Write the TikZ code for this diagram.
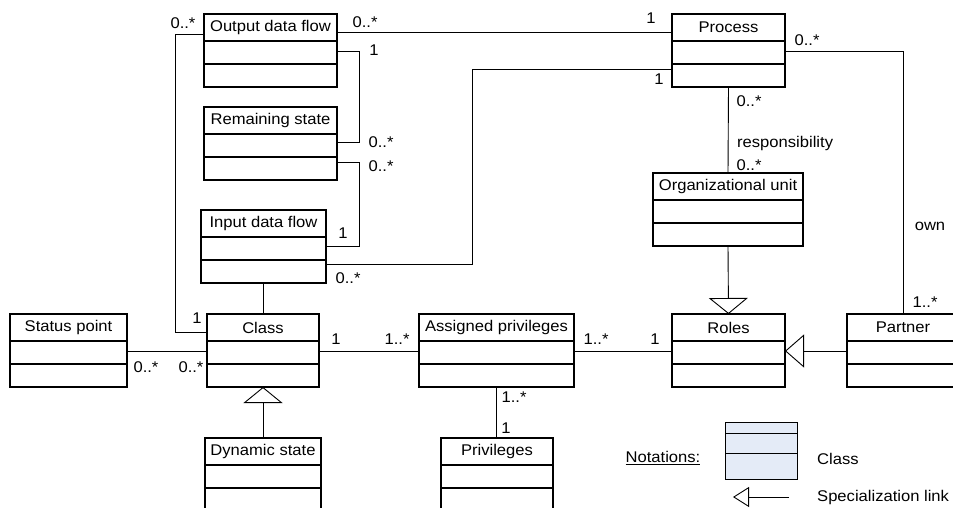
\documentclass[tikz,border=0pt]{standalone}
\usepackage{fontspec}
\setmainfont{Liberation Sans}[FakeStretch=1.07]
\usetikzlibrary{arrows.meta,calc}
\definecolor{legendfill}{RGB}{228,235,247}
\tikzset{
 classbox/.style={draw, line width=1.1pt, inner sep=0pt, outer sep=0pt, minimum height=73pt, anchor=north west},
 conn/.style={line width=0.9pt},
 lbl/.style={inner sep=0pt, font=\fontsize{15.5}{18}\selectfont},
 lbll/.style={lbl, anchor=west},
}
\newcommand\umlclass[5]{%
 \node[classbox, minimum width=#4pt] (#1) at (#2,#3) {};
 \node[lbl] (#1-t) at ([yshift=-13.5pt]#1.north) {#5};
 \draw[line width=1.1pt] ([yshift=-27pt]#1.north west) -- ([yshift=-27pt]#1.north east);
 \draw[line width=1.1pt] ([yshift=-50pt]#1.north west) -- ([yshift=-50pt]#1.north east);
}
\begin{document}
\begin{tikzpicture}[x=1pt,y=-1pt]
\useasboundingbox (0,0) rectangle (953,508);
\clip (0,0) rectangle (953,508);
% classes
\umlclass{out}{204}{14}{133}{Output data flow}
\umlclass{rem}{204}{107}{133}{Remaining state}
\umlclass{inp}{201}{210}{125}{Input data flow}
\umlclass{proc}{672}{14}{113}{Process}
\umlclass{org}{653}{173}{150}{Organizational unit}
\umlclass{roles}{672}{314}{113}{Roles}
\umlclass{partner}{847}{314}{112}{Partner}
\umlclass{status}{10}{314}{117}{Status point}
\umlclass{cls}{207}{314}{112}{Class}
\umlclass{asg}{419}{314}{155}{Assigned privileges}
\umlclass{dyn}{205}{438}{116}{Dynamic state}
\umlclass{priv}{441}{438}{112}{Privileges}
% connectors
\draw[conn] ([yshift=-18pt]out.north east) -- ([yshift=-18pt]proc.north west);
\draw[conn] ([yshift=-37pt]out.north east) -- ++(22,0) |- ([yshift=-35pt]rem.north east);
\draw[conn] ([yshift=-55pt]rem.north east) -- ++(22,0) |- ([yshift=-36pt]inp.north east);
\draw[conn] ([yshift=-54pt]inp.north east) -- ++(146,0) |- ([yshift=-55pt]proc.north west);
\draw[conn] ([yshift=-37pt]proc.north east) -| (partner.north);
\draw[conn] (proc.south) -- (org.north);
\draw[conn, -{Triangle[open, length=16pt, width=39pt, line width=0.9pt]}] (org.south) -- (roles.north);
\draw[conn, -{Triangle[open, length=19pt, width=33pt, line width=0.9pt]}] ([yshift=-37pt]partner.north west) -- ([yshift=-37pt]roles.north east);
\draw[conn, -{Triangle[open, length=16pt, width=39pt, line width=0.9pt]}] (dyn.north) -- (dyn.north |- cls.south);
\draw[conn] (inp.south) -- (inp.south |- cls.north);
\draw[conn] ([yshift=-18pt]cls.north west) -- ++(-32,0) |- ([yshift=-20pt]out.north west);
\draw[conn] ([yshift=-37pt]status.north east) -- ([yshift=-37pt]cls.north west);
\draw[conn] ([yshift=-37pt]cls.north east) -- ([yshift=-37pt]asg.north west);
\draw[conn] ([yshift=-37pt]asg.north east) -- ([yshift=-37pt]roles.north west);
\draw[conn] (asg.south) -- (asg.south |- priv.north);
% multiplicities and labels
\node[lbl] (m1) at (183,23) {0..*};
\node[lbl] (m2) at (365,22) {0..*};
\node[lbl] (m3) at (651,18) {1};
\node[lbl] (m4) at (374,50) {1};
\node[lbl] (m5) at (381,142) {0..*};
\node[lbl] (m6) at (381,166) {0..*};
\node[lbl] (m7) at (343,233) {1};
\node[lbl] (m8) at (348,278) {0..*};
\node[lbl] (m9) at (659,79) {1};
\node[lbl] (m10) at (807,40) {0..*};
\node[lbl] (m11) at (749,101) {0..*};
\node[lbll] (m12) at (737,143) {responsibility};
\node[lbl] (m13) at (749,165) {0..*};
\node[lbl] (m14) at (930,226) {own};
\node[lbl] (m15) at (925,302) {1..*};
\node[lbl] (m16) at (197,318) {1};
\node[lbl] (m17) at (146,367) {0..*};
\node[lbl] (m18) at (191,367) {0..*};
\node[lbl] (m19) at (336,339) {1};
\node[lbl] (m20) at (397,339) {1..*};
\node[lbl] (m21) at (596,339) {1..*};
\node[lbl] (m22) at (655,339) {1};
\node[lbl] (m23) at (514,397) {1..*};
\node[lbl] (m24) at (506,428) {1};
% legend
\node[lbl] (nt) at (663,458) {\underline{Notations:}};
\node[draw, fill=legendfill, line width=1pt, inner sep=0pt, minimum width=72pt, minimum height=57pt, anchor=north west] (lg) at (725,422) {};
\draw[line width=1pt] ([yshift=-11pt]lg.north west) -- ([yshift=-11pt]lg.north east);
\draw[line width=1pt] ([yshift=-31pt]lg.north west) -- ([yshift=-31pt]lg.north east);
\node[lbll] (lgc) at (817,459) {Class};
\coordinate (sa) at (789,497);
\coordinate (sb) at (733,497);
\draw[conn, -{Triangle[open, length=16pt, width=20pt, line width=0.9pt]}] (sa) -- (sb);
\node[lbll] (lgs) at (817,497) {Specialization link};
\end{tikzpicture}
\end{document}
